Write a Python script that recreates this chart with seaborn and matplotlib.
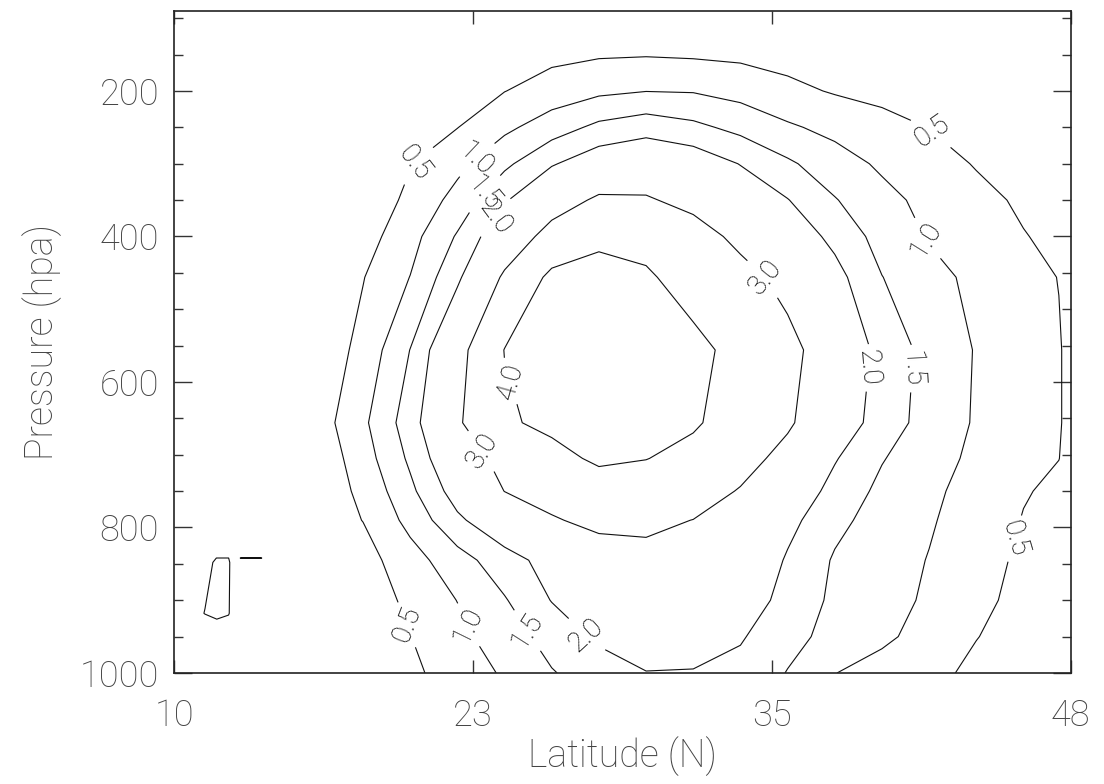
import numpy as np
import pandas as pd
import matplotlib
matplotlib.use("Agg")
import matplotlib.pyplot as plt
import seaborn as sns

# ---------------- data ----------------
lats = [10, 12, 14, 16, 18, 20, 22, 24, 26, 28, 30, 32, 34, 36, 38, 40, 42, 44, 46, 47.5, 48]
pressure = [1000, 950, 900, 845, 790, 750, 705, 656, 556, 456, 400, 350, 300, 250, 200, 150, 100]

p1000 = [0.10, 0.15, 0.20, 0.25, 0.30, 0.40, 0.72, 1.06, 1.47, 1.73, 1.98, 1.95, 1.84, 1.48, 1.01, 0.80, 0.60, 0.42, 0.32, 0.25, 0.22]
p950 = [0.12, 0.18, 0.22, 0.27, 0.33, 0.49, 0.86, 1.27, 1.68, 2.10, 2.35, 2.40, 2.05, 1.65, 1.35, 1.10, 0.81, 0.51, 0.36, 0.28, 0.25]
p900 = [0.12, 0.14, 0.16, 0.18, 0.21, 0.61, 1.01, 1.46, 2.02, 2.30, 2.55, 2.60, 2.35, 1.80, 1.41, 1.18, 0.93, 0.57, 0.42, 0.33, 0.30]
p845 = [0.12, 0.15, 0.18, 0.22, 0.30, 0.80, 1.29, 1.79, 2.20, 2.60, 2.80, 2.80, 2.55, 1.94, 1.45, 1.22, 0.98, 0.67, 0.42, 0.34, 0.30]
p790 = [0.12, 0.15, 0.17, 0.20, 0.51, 1.15, 1.90, 2.43, 2.93, 3.20, 3.15, 2.99, 2.57, 2.16, 1.63, 1.30, 1.05, 0.76, 0.48, 0.38, 0.34]
p750 = [0.13, 0.15, 0.17, 0.20, 0.60, 1.39, 2.24, 3.01, 3.30, 3.55, 3.55, 3.35, 2.95, 2.40, 1.83, 1.38, 1.10, 0.82, 0.53, 0.42, 0.38]
p705 = [0.08, 0.09, 0.10, 0.12, 0.77, 1.59, 2.56, 3.25, 3.72, 4.15, 4.02, 3.75, 3.30, 2.75, 2.04, 1.53, 1.19, 0.90, 0.67, 0.505, 0.40]
p656 = [0.10, 0.12, 0.15, 0.23, 0.90, 1.76, 2.89, 3.88, 4.20, 4.45, 4.40, 4.10, 3.61, 3.11, 2.38, 1.75, 1.31, 0.95, 0.70, 0.53, 0.405]
p556 = [0.09, 0.10, 0.12, 0.14, 0.65, 1.51, 2.70, 4.02, 4.30, 4.45, 4.40, 4.20, 3.77, 3.23, 2.55, 1.82, 1.34, 0.97, 0.71, 0.53, 0.405]
p456 = [0.12, 0.16, 0.22, 0.30, 0.48, 1.01, 1.89, 3.12, 4.20, 4.25, 4.10, 3.68, 3.26, 2.76, 2.18, 1.51, 1.16, 0.88, 0.64, 0.49, 0.38]
p400 = [0.09, 0.12, 0.15, 0.20, 0.29, 0.82, 1.55, 2.45, 3.30, 3.85, 3.75, 3.35, 2.80, 2.36, 1.86, 1.31, 0.96, 0.74, 0.52, 0.40, 0.35]
p350 = [0.08, 0.10, 0.13, 0.16, 0.20, 0.60, 1.18, 1.94, 2.63, 3.12, 3.08, 2.77, 2.40, 2.02, 1.53, 1.15, 0.86, 0.63, 0.43, 0.35, 0.32]
p300 = [0.06, 0.08, 0.11, 0.15, 0.25, 0.48, 0.86, 1.39, 1.95, 2.35, 2.50, 2.35, 1.98, 1.58, 1.22, 0.92, 0.69, 0.47, 0.36, 0.30, 0.28]
p250 = [0.05, 0.07, 0.10, 0.15, 0.22, 0.32, 0.49, 0.89, 1.26, 1.62, 1.80, 1.62, 1.36, 1.07, 0.86, 0.68, 0.49, 0.38, 0.30, 0.25, 0.24]
p200 = [0.04, 0.05, 0.07, 0.10, 0.15, 0.22, 0.32, 0.49, 0.72, 0.90, 0.99, 0.97, 0.83, 0.62, 0.46, 0.35, 0.27, 0.22, 0.18, 0.15, 0.15]
p150 = [0.03, 0.04, 0.06, 0.08, 0.12, 0.16, 0.22, 0.30, 0.38, 0.45, 0.47, 0.44, 0.40, 0.33, 0.27, 0.20, 0.16, 0.13, 0.11, 0.10, 0.10]
p100 = [0.02, 0.03, 0.04, 0.05, 0.07, 0.09, 0.12, 0.15, 0.18, 0.20, 0.21, 0.20, 0.18, 0.15, 0.12, 0.10, 0.08, 0.07, 0.06, 0.05, 0.05]

# small isolated 0.5 feature near the lower-left corner
patch_lat = [10.8, 11.3, 11.8, 12.3, 12.5, 12.8, 13.2, 13.7, 14.0]
patch_p = [836, 842, 848, 918, 930]
patch_836 = [0.30, 0.30, 0.30, 0.30, 0.30, 0.30, 0.30, 0.30, 0.30]
patch_842 = [0.30, 0.45, 0.502, 0.502, 0.40, 0.502, 0.502, 0.502, 0.40]
patch_848 = [0.30, 0.30, 0.60, 0.60, 0.20, 0.30, 0.30, 0.30, 0.30]
patch_918 = [0.30, 0.52, 0.60, 0.55, 0.20, 0.20, 0.20, 0.20, 0.20]
patch_930 = [0.30, 0.30, 0.45, 0.30, 0.30, 0.30, 0.30, 0.30, 0.30]

contour_levels = [0.5, 1.0, 1.5, 2.0, 3.0, 4.0]
label_points = [(20.2, 300), (20.0, 932), (42.1, 257), (45.6, 815),
                (22.7, 290), (22.6, 932), (41.8, 405),
                (23.0, 337), (25.0, 941), (41.1, 581),
                (23.45, 370), (27.4, 950), (39.3, 580),
                (35.3, 449), (22.8, 700),
                (24.1, 600)]

xtick_labels = ["10", "23", "35", "48"]
ytick_values = [200, 400, 600, 800, 1000]

# ---------------- build tables ----------------
field = pd.DataFrame([p1000, p950, p900, p845, p790, p750, p705, p656, p556,
                      p456, p400, p350, p300, p250, p200, p150, p100],
                     index=pressure, columns=lats)
patch = pd.DataFrame([patch_836, patch_842, patch_848, patch_918, patch_930],
                     index=patch_p, columns=patch_lat)

# ---------------- style ----------------
sns.set_theme(style="ticks")
plt.rcParams['font.family'] = ['Roboto', 'Lato', 'DejaVu Sans']
plt.rcParams['axes.linewidth'] = 1.2
plt.rcParams['axes.edgecolor'] = '#222222'

fig = plt.figure(figsize=(11.04, 7.84), dpi=100)
ax = fig.add_axes([0.1579, 0.1416, 0.8119, 0.8444])
ax.set_facecolor('white')

line_col = '#111111'
cs = ax.contour(field.columns.values, field.index.values, field.values,
                levels=contour_levels, colors=line_col, linewidths=0.8)
ax.contour(patch.columns.values, patch.index.values, patch.values,
           levels=[0.5], colors=line_col, linewidths=0.8)
labels = ax.clabel(cs, fmt='%.1f', fontsize=20, inline=True, inline_spacing=5,
                   manual=label_points)
for t in labels:
    t.set_fontweight('light')
    t.set_color('#000000')

ax.set_xlim(10, 48)
ax.set_ylim(1000, 90)

xt = np.linspace(10, 48, len(xtick_labels))
ax.set_xticks(xt)
ax.set_xticklabels(xtick_labels)
ax.set_yticks(ytick_values)
ax.set_yticklabels([str(v) for v in ytick_values])
ax.set_yticks(np.arange(100, 1000, 50), minor=True)

txt_col = '#444444'
ax.tick_params(axis='y', which='major', direction='in', length=13, width=1,
               left=True, right=True, labelsize=26, pad=11, labelcolor=txt_col, color='#333')
ax.tick_params(axis='y', which='minor', direction='in', length=6.5, width=1,
               left=True, right=True, color='#333')
ax.tick_params(axis='x', which='major', direction='in', length=9.4, width=1,
               top=True, bottom=True, labelsize=26, pad=18, labelcolor=txt_col, color='#333')
for lab in ax.get_xticklabels() + ax.get_yticklabels():
    lab.set_fontweight('light')

ax.set_xlabel('Latitude (N)', fontsize=27, color=txt_col, fontweight='light')
ax.set_ylabel('Pressure (hpa)', fontsize=27, color=txt_col, fontweight='light')
ax.xaxis.set_label_coords(0.5, -0.095)
ax.yaxis.set_label_coords(-0.125, 0.5)

for s in ax.spines.values():
    s.set_visible(True)
    s.set_color('#222222')

fig.savefig('out.png', dpi=100)
